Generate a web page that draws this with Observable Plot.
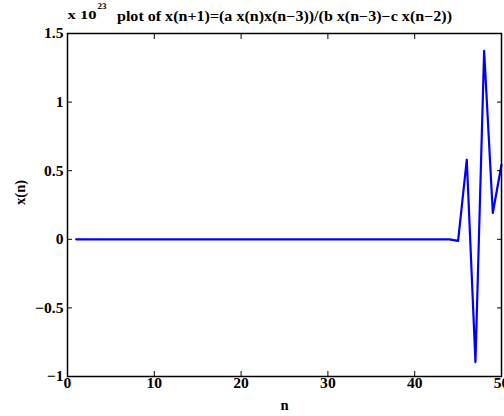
<!DOCTYPE html>
<html>
<head>
<meta charset="utf-8">
<script src="https://cdn.jsdelivr.net/npm/d3@7"></script>
<script src="https://cdn.jsdelivr.net/npm/@observablehq/plot@0.6"></script>
<style>
  html, body { margin: 0; padding: 0; background: #fff; overflow: hidden; }
</style>
</head>
<body>
<div id="chart"></div>
<script>
// n values (1..50)
const nValues = d3.range(1, 51);
// x(n) in units of 1e23
const xValues = [
  0, 0, 0, 0, 0, 0, 0, 0, 0, 0,
  0, 0, 0, 0, 0, 0, 0, 0, 0, 0,
  0, 0, 0, 0, 0, 0, 0, 0, 0, 0,
  0, 0, 0, 0, 0, 0, 0, 0, 0, 0,
  0, 0, 0, 0, -0.012, 0.58, -0.895, 1.374, 0.192, 0.545
];
const xTicks = [0, 10, 20, 30, 40, 50];
const yTicks = [-1, -0.5, 0, 0.5, 1, 1.5];
const titleText = "plot of x(n+1)=(a x(n)x(n\u22123))/(b x(n\u22123)\u2212c x(n\u22122))";
const scaleText = "x 10";
const scaleExp = "23";
const xLabel = "n";
const yLabel = "x(n)";

const data = nValues.map((n, i) => ({n, x: xValues[i]}));
const fmt = d => d3.format("")(d).replace("-", "\u2212");

const chart = Plot.plot({
  width: 504,
  height: 416,
  marginLeft: 67,
  marginRight: 3,
  marginTop: 33,
  marginBottom: 40,
  style: {fontFamily: "'Liberation Serif', 'DejaVu Serif', serif", fontWeight: "bold", fontSize: "15px", color: "black", background: "white"},
  x: {domain: [0, 50]},
  y: {domain: [-1, 1.5]},
  marks: [
    Plot.line(data, {x: "n", y: "x", stroke: "#0000ff", strokeWidth: 2.2}),
    Plot.axisX(xTicks, {anchor: "bottom", tickSize: 0, tickPadding: 1, tickFormat: fmt, label: null, fontSize: 15, fontWeight: "bold"}),
    Plot.axisX(xTicks, {anchor: "bottom", tickSize: -5, text: null, label: null, strokeWidth: 1}),
    Plot.axisX(xTicks, {anchor: "top", tickSize: -5, text: null, label: null, strokeWidth: 1}),
    Plot.axisY(yTicks, {anchor: "left", tickSize: 0, tickPadding: 4, tickFormat: fmt, label: null, fontSize: 15, fontWeight: "bold"}),
    Plot.axisY(yTicks, {anchor: "left", tickSize: -5, text: null, label: null, strokeWidth: 1}),
    Plot.axisY(yTicks, {anchor: "right", tickSize: -5, text: null, label: null, strokeWidth: 1}),
    Plot.frame({stroke: "black", strokeWidth: 1.5}),
    Plot.text([titleText], {frameAnchor: "top", dy: -17, lineAnchor: "middle", fontSize: 14, fontWeight: "bold", text: d => d}),
    Plot.text([scaleText], {frameAnchor: "top-left", dy: -18, dx: 0, textAnchor: "start", lineAnchor: "middle", fontSize: 12, fontWeight: "bold", text: d => d}),
    Plot.text([scaleExp], {frameAnchor: "top-left", dy: -27, dx: 30, textAnchor: "start", lineAnchor: "middle", fontSize: 8, fontWeight: "bold", text: d => d}),
    Plot.text([xLabel], {frameAnchor: "bottom", dy: 29, lineAnchor: "middle", fontSize: 14, fontWeight: "bold", text: d => d}),
    Plot.text([yLabel], {frameAnchor: "left", dx: -47, rotate: -90, lineAnchor: "middle", fontSize: 14, fontWeight: "bold", text: d => d})
  ]
});
document.getElementById("chart").appendChild(chart);

// widen some texts to match the reference's wider rendering
const targets = new Map([[titleText, 335], [scaleText, 29], [scaleExp, 9]]);
d3.select(chart).selectAll("text").each(function() {
  const t = this.textContent;
  const len = this.getComputedTextLength();
  if (!len) return;
  const target = targets.has(t) ? targets.get(t) : len * 1.04;
  this.setAttribute("textLength", target);
  this.setAttribute("lengthAdjust", "spacingAndGlyphs");
});
</script>
</body>
</html>
